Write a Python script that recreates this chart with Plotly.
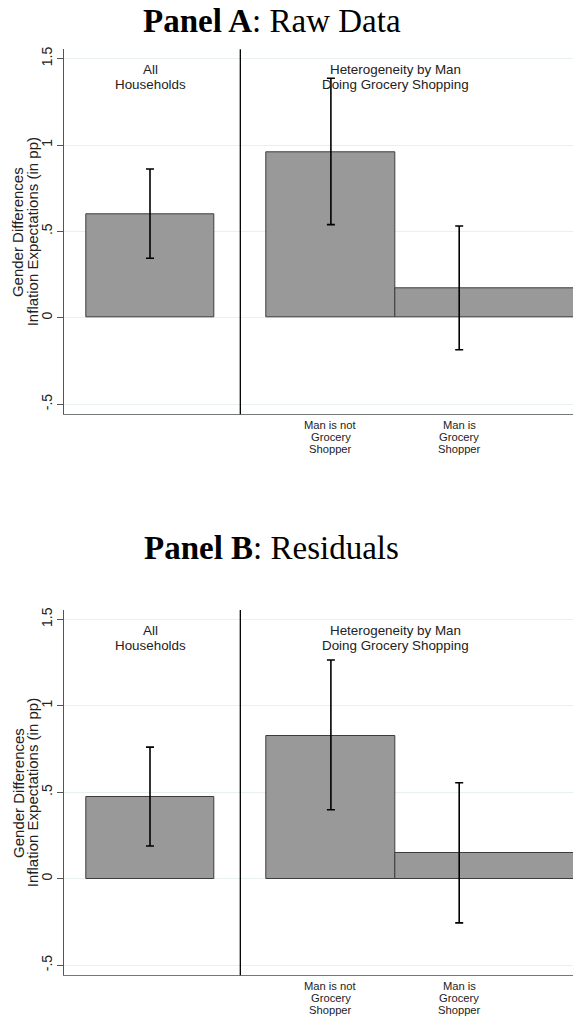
import plotly.graph_objects as go

# ---------------- data ----------------
categories = ["All Households", "Man is not Grocery Shopper", "Man is Grocery Shopper"]
raw_mean = [0.600, 0.958, 0.170]
raw_lo = [0.344, 0.539, -0.185]
raw_hi = [0.861, 1.386, 0.531]
resid_mean = [0.474, 0.828, 0.148]
resid_lo = [0.189, 0.399, -0.256]
resid_hi = [0.761, 1.265, 0.555]
ytick_vals = [-0.5, 0, 0.5, 1, 1.5]
ytick_text = ["-.5", "0", ".5", "1", "1.5"]
group_labels = ["All<br>Households", "Heterogeneity by Man<br>Doing Grocery Shopping"]
bar_labels = ["", "Man is not<br>Grocery<br>Shopper", "Man is<br>Grocery<br>Shopper"]
panel_titles = [("Panel A", "Raw Data"), ("Panel B", "Residuals")]
y_title = "Gender Differences<br>Inflation Expectations (in pp)"

# ---------------- layout constants ----------------
W, H = 573, 1020
X_POS = [0.0, 1.41, 2.41]
BAR_W = [1.0, 1.0, 1.5]
BAR_OFF = [-0.5, -0.5, -0.5]
GROUP_X = [0.0, 1.91]
SEP_X = 0.704
XR = [-0.668, 3.297]
YR = [-0.559, 1.554]
LEFT_PX = 64.3
PANELS_PX = [(49.3, 414.3), (610.0, 975.3)]
TITLE_Y_PX = [20.5, 548.0]
TITLE_X_PX = 271.7
TXT = "#222222"
SANS = "Liberation Sans, Arial, sans-serif"


def py(px):
    return 1 - px / H


def pxx(px):
    return px / W


fig = go.Figure()
annotations = []
shapes = []
series = [(raw_mean, raw_lo, raw_hi), (resid_mean, resid_lo, resid_hi)]

for i, (m, lo, hi) in enumerate(series):
    xa = "x" if i == 0 else "x2"
    ya = "y" if i == 0 else "y2"
    fig.add_trace(go.Bar(
        x=X_POS, y=m, width=BAR_W, offset=BAR_OFF,
        marker=dict(color="#999999", line=dict(color="#3c3c3c", width=1)),
        xaxis=xa, yaxis=ya, showlegend=False, hoverinfo="skip",
    ))
    fig.add_trace(go.Scatter(
        x=X_POS, y=m, mode="markers",
        marker=dict(size=1, opacity=0),
        error_y=dict(type="data", symmetric=False,
                     array=[h - v for h, v in zip(hi, m)],
                     arrayminus=[v - l for v, l in zip(m, lo)],
                     color="black", thickness=1.6, width=4),
        xaxis=xa, yaxis=ya, showlegend=False, hoverinfo="skip",
    ))
    top, bot = PANELS_PX[i]
    # separator
    shapes.append(dict(type="line", xref=xa, yref=ya + " domain",
                       x0=SEP_X, x1=SEP_X, y0=0, y1=1,
                       line=dict(color="black", width=1.3)))
    # panel title
    bold, rest = panel_titles[i]
    annotations.append(dict(
        text=f"<b>{bold}</b>: {rest}", xref="paper", yref="paper",
        x=pxx(TITLE_X_PX), y=py(TITLE_Y_PX[i]), xanchor="center", yanchor="middle",
        showarrow=False, font=dict(family="Liberation Serif, Times New Roman, serif",
                                   size=33, color="black")))
    # group labels
    for gx, gl in zip(GROUP_X, group_labels):
        for k, line in enumerate(gl.split("<br>")):
            annotations.append(dict(
                text=line, xref=xa, yref="paper", x=gx, y=py(top + 20 + 15 * k),
                xanchor="center", yanchor="middle", showarrow=False,
                font=dict(family=SANS, size=13.4, color=TXT)))
    # bar labels below axis
    for bx, bl in zip(X_POS, bar_labels):
        if not bl:
            continue
        for k, line in enumerate(bl.split("<br>")):
            annotations.append(dict(
                text=line, xref=xa, yref="paper", x=bx, y=py(bot + 10.6 + 12.2 * k),
                xanchor="center", yanchor="middle", showarrow=False,
                font=dict(family=SANS, size=11.2, color=TXT)))
    # y title
    for k, line in enumerate(y_title.split("<br>")):
        annotations.append(dict(
            text=line, xref="paper", yref="paper", x=pxx(18.3 + 14.2 * k),
            y=py((top + bot) / 2), xanchor="center", yanchor="middle",
            textangle=-90, showarrow=False,
            font=dict(family=SANS, size=15, color=TXT)))

xaxis_common = dict(range=XR, showgrid=False, zeroline=False, showticklabels=False,
                    ticks="", showline=True, linecolor="#777777", linewidth=1.2,
                    domain=[pxx(LEFT_PX), 1.0], fixedrange=True)
yaxis_common = dict(range=YR, tickvals=ytick_vals, ticktext=ytick_text, tickangle=-90,
                    ticks="outside", ticklen=6, tickcolor="#555555", tickwidth=1,
                    showgrid=True, gridcolor="#e8f0f1", gridwidth=1, zeroline=False,
                    showline=True, linecolor="#555555", linewidth=1.2,
                    tickfont=dict(family=SANS, size=14, color=TXT), fixedrange=True)

fig.update_layout(
    width=W, height=H, margin=dict(l=0, r=0, t=0, b=0, autoexpand=False),
    paper_bgcolor="white", plot_bgcolor="white", bargap=0,
    xaxis=dict(**xaxis_common, anchor="y"),
    xaxis2=dict(**xaxis_common, anchor="y2"),
    yaxis=dict(**yaxis_common, anchor="x",
               domain=[py(PANELS_PX[0][1]), py(PANELS_PX[0][0])]),
    yaxis2=dict(**yaxis_common, anchor="x2",
                domain=[py(PANELS_PX[1][1]), py(PANELS_PX[1][0])]),
    annotations=annotations, shapes=shapes,
)

fig.write_html(
    "out.html",
    config={"displayModeBar": False},
    post_script="document.body.style.margin='0';document.body.style.overflow='hidden';",
)
